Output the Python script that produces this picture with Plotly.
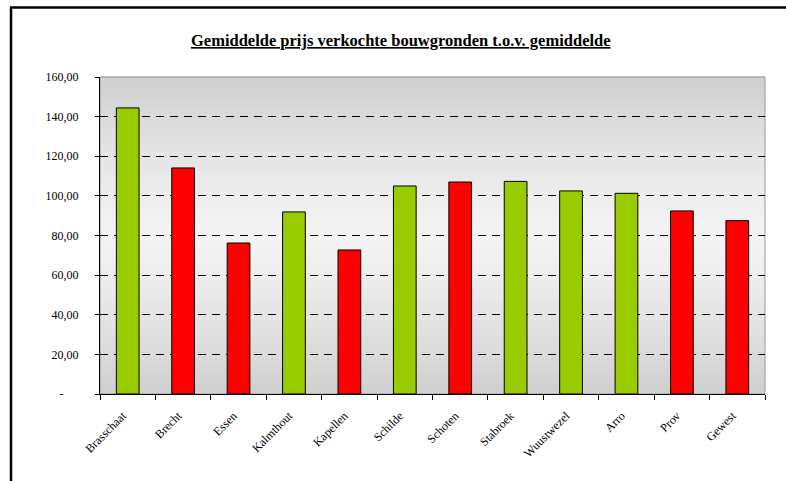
import plotly.graph_objects as go

categories = ["Brasschaat", "Brecht", "Essen", "Kalmthout", "Kapellen", "Schilde",
              "Schoten", "Stabroek", "Wuustwezel", "Arro", "Prov", "Gewest"]
values = [144.4, 114.1, 76.2, 91.9, 72.7, 105.0, 107.0, 107.3, 102.5, 101.3, 92.4, 87.5]
bar_colors = ["#99CC00", "#FF0000", "#FF0000", "#99CC00", "#FF0000", "#99CC00",
              "#FF0000", "#99CC00", "#99CC00", "#99CC00", "#FF0000", "#FF0000"]
y_tickvals = [0, 20, 40, 60, 80, 100, 120, 140, 160]
y_ticktext = ["-" + "\u00a0" * 5, "20,00", "40,00", "60,00", "80,00", "100,00",
              "120,00", "140,00", "160,00"]
title_text = "Gemiddelde prijs verkochte bouwgronden t.o.v. gemiddelde"

FONT = "Liberation Serif, Times New Roman, serif"

fig = go.Figure()
fig.add_trace(go.Bar(
    x=categories, y=values,
    marker=dict(color=bar_colors, line=dict(color="black", width=1)),
    width=0.41,
))

# vertical gradient background (dark - light - dark)
shapes = []
n = 60
for i in range(n):
    t = (i + 0.5) / n
    d = abs(t - 0.5) * 2  # 0 at middle, 1 at edges
    g = int(round(243 - (243 - 207) * d ** 1.3))
    shapes.append(dict(type="rect", xref="x domain", yref="y domain",
                       x0=0, x1=1, y0=i / n, y1=(i + 1) / n + 0.002,
                       fillcolor=f"rgb({g},{g},{g})", line=dict(width=0),
                       layer="below"))
# plot area border (gray)
shapes.append(dict(type="rect", xref="x domain", yref="y domain", x0=0, x1=1, y0=0, y1=1,
                   line=dict(color="#9a9a9a", width=1), fillcolor="rgba(0,0,0,0)",
                   layer="below"))
# outer chart border: top and left
shapes.append(dict(type="line", xref="paper", yref="paper",
                   x0=(10 - 100) / 665, x1=1.06, y0=(394 - 7.5) / 317, y1=(394 - 7.5) / 317,
                   line=dict(color="black", width=2.5)))
shapes.append(dict(type="line", xref="paper", yref="paper",
                   x0=(11 - 100) / 665, x1=(11 - 100) / 665, y0=(394 - 7) / 317, y1=-0.35,
                   line=dict(color="black", width=2.5)))

fig.update_layout(
    width=786, height=481,
    margin=dict(l=100, r=21, t=77, b=87),
    paper_bgcolor="white", plot_bgcolor="#e8e8e8",
    showlegend=False,
    shapes=shapes,
    font=dict(family=FONT, color="black"),
    annotations=[dict(
        text="<b><u>" + title_text + "</u></b>",
        xref="paper", yref="paper",
        x=(401 - 100) / 665, y=(394 - 40) / 317,
        xanchor="center", yanchor="middle", showarrow=False,
        font=dict(family=FONT, size=16.5, color="black"),
    )],
)
fig.update_xaxes(
    showline=True, linecolor="black", linewidth=1,
    ticks="outside", tickson="boundaries", ticklen=5, tickcolor="black",
    tickangle=-45, tickfont=dict(family=FONT, size=12, color="black"),
    ticklabelstandoff=9, ticklabelshift=-5,
    showgrid=False,
)
fig.update_yaxes(
    range=[0, 160], tickvals=y_tickvals, ticktext=y_ticktext,
    showline=True, linecolor="black", linewidth=1,
    ticks="outside", ticklen=4, tickcolor="black",
    tickfont=dict(family=FONT, size=12, color="black"),
    ticklabelstandoff=14,
    showgrid=True, gridcolor="black", gridwidth=1, griddash="8px,6px",
    zeroline=False,
)

fig.write_html("out.html", config={"displayModeBar": False},
               post_script="document.body.style.margin='0';document.body.style.overflow='hidden';")
